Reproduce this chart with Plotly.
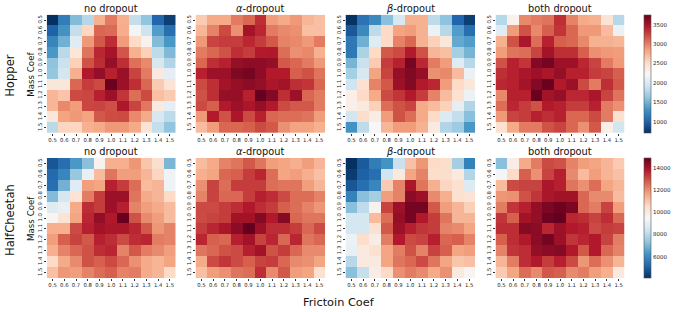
import plotly.graph_objects as go

W, H = 676, 312
friction = ["0.5","0.6","0.7","0.8","0.9","1.0","1.1","1.2","1.3","1.4","1.5"]
mass = list(friction)

hopper_none = [
[720,1170,1570,1800,2780,3030,2790,1870,1630,1030,800],
[1000,1320,1870,2560,3120,3100,2800,2200,1920,1380,1080],
[1230,1500,2050,2900,3180,3370,2880,2540,2300,1570,1350],
[1350,1820,2420,3060,3390,3500,3190,2780,2600,1840,1560],
[1620,1900,2600,3210,3370,3570,3360,3080,2970,1990,1780],
[1650,1960,2790,3460,3580,3420,3550,3270,3030,2390,2090],
[2410,2410,3120,3300,3240,3750,3540,3360,3120,2630,2450],
[2750,2670,3240,3260,3420,3540,3330,3090,3240,2700,2640],
[2750,2970,2880,3260,3270,3220,3470,3270,3050,2390,2090],
[2420,2850,2900,2850,3180,3230,3240,2970,2820,1990,1840],
[1820,2570,2570,2780,2820,2900,2900,2820,2440,1870,1630]]
hopper_alpha = [
[2630,2820,2820,3030,3120,3360,2880,2820,2900,2750,2700],
[2750,3000,3240,2940,3510,3390,3030,2970,2940,2700,2700],
[2900,3270,3300,3300,3390,3300,3180,3000,2970,2900,3030],
[3030,3120,3210,3360,3300,3450,3460,3090,2940,2970,2780],
[3120,3360,3420,3570,3600,3600,3570,3180,3120,3030,2900],
[3420,3540,3540,3660,3700,3600,3450,3450,3150,3210,3060],
[3240,3360,3510,3570,3610,3570,3480,3510,3360,3330,3120],
[3210,3360,3570,3570,3420,3760,3640,3360,3540,3120,3030],
[3240,3150,3450,3540,3480,3570,3450,3240,3180,3180,3030],
[2900,3450,3210,3480,3240,3420,3120,3090,3090,3060,2880],
[2720,2880,3120,3120,3150,3240,3180,2940,2850,2850,2780]]
hopper_beta = [
[730,1110,1260,1600,1990,2780,2780,1840,1620,1020,800],
[940,1260,1840,2540,2850,2880,2780,2140,1810,1380,1080],
[1140,1500,2050,2540,3000,3120,2780,2600,2420,1450,1380],
[1140,1750,2540,3180,3240,3450,3210,2750,2700,1720,1530],
[1530,1900,2630,3300,3420,3700,3390,3030,2880,2050,1810],
[1720,1990,2850,3270,3570,3660,3570,2940,2970,2720,2140],
[1930,2480,3000,3180,3540,3640,3450,3390,2880,2540,2420],
[2330,2540,2820,3240,3330,3450,3300,3000,2720,2480,2140],
[2330,2390,2600,3090,3210,3270,2820,2720,2600,2090,1780],
[1960,2510,2360,2880,3210,3090,2820,2540,2020,1870,1600],
[1320,1840,2240,2750,2880,2880,2780,2390,1780,1690,1350]]
hopper_both = [
[1810,2300,2970,3030,3060,3360,3000,2820,2780,2450,1810],
[2050,2880,3210,2970,3150,3330,3120,2900,2900,2720,2140],
[2780,3210,3480,3090,3420,3150,3120,2970,2780,2780,2750],
[2880,3060,3090,3270,3510,3360,3360,3150,2940,2900,2880],
[3210,3420,3330,3640,3700,3540,3540,3390,3270,3030,2900],
[3360,3420,3480,3540,3480,3570,3420,3420,3300,3270,3150],
[3390,3420,3510,3640,3750,3450,3540,3240,3030,3360,3180],
[2970,3420,3420,3750,3510,3570,3390,3390,3480,3270,3060],
[3090,3390,3300,3210,3450,3420,3300,3300,3420,3030,2940],
[2900,3270,3300,3420,3360,3420,3120,3120,3240,3030,2480],
[2480,2820,3030,3030,3210,3270,3120,2940,3180,2330,1960]]
cheetah_none = [
[4840,5380,6350,7210,9700,11420,11420,11850,11000,10450,7000],
[5270,5920,7430,9050,11200,12390,11740,11740,11310,10660,9260],
[5380,6890,8830,11740,11630,13680,13250,12500,11200,11310,9260],
[7110,8510,10230,12280,13250,14110,14110,12390,11530,11310,10560],
[8830,9050,11530,13470,13250,14110,13680,12170,11740,11530,11200],
[9590,10230,11630,13580,14220,13790,14870,12930,12060,11740,11200],
[11420,11420,13040,13680,14020,13900,13900,13580,12820,11850,12170],
[11740,12710,13150,12820,13680,13470,13040,13470,13580,12280,12170],
[11420,12170,12600,12930,13470,13580,12170,12820,12280,12060,11740],
[10560,11530,12060,12930,12710,13040,12600,11960,11530,11310,11630],
[11110,11850,11740,12170,12500,12710,12170,12280,11530,11310,10560]]
cheetah_alpha = [
[11200,11530,12170,12390,12820,12390,11740,11630,11420,11740,11310],
[11420,11630,12600,12710,13250,13580,12500,11630,11740,11420,11090],
[11960,13150,12500,13250,13250,13250,12500,12390,12390,11740,11310],
[12170,13150,12600,12600,13250,13680,13470,13040,12500,12500,12170],
[13040,13040,13250,13470,13790,13470,13250,12710,12500,12170,11850],
[13040,13150,13250,14020,14020,14440,13790,14440,12600,12390,12390],
[13250,13580,13900,14330,14870,14110,13470,13470,13250,12600,13040],
[13580,12710,12600,13680,14020,13150,13580,12600,13580,12390,12600],
[12390,12600,12930,13040,13680,14020,12930,13250,12600,12060,12060],
[11530,13040,13360,13040,12710,13150,13250,12600,12060,11960,11630],
[11110,11740,11960,12390,12500,13470,12060,12820,11740,11630,10340]]
cheetah_beta = [
[4100,4950,5700,6240,8290,11090,11850,10560,10450,7640,5810],
[4300,5060,5380,8400,10020,11630,12170,10450,10450,10020,7860],
[4840,5380,5920,10880,12170,13900,12390,11420,10660,10340,8720],
[5810,7210,7640,11740,12170,14330,14110,12060,11420,10340,10230],
[7210,8080,9700,13150,14110,14660,14660,12820,11740,11310,10770],
[8510,8510,11200,12500,14220,14660,13790,13250,12390,11310,11310],
[8510,8510,10340,12820,14110,13680,13360,13250,12170,12060,11630],
[9150,10450,9910,12280,13790,13040,13150,13680,12600,12710,12170],
[9050,10020,10340,11630,12280,12930,12170,13150,12710,11630,11740],
[7970,10020,10020,11630,12390,12600,13040,12390,11630,11000,11110],
[7210,8190,9910,10560,11960,12280,12060,11530,11960,10020,9590]]
cheetah_both = [
[7210,9910,11530,12280,13040,12930,12170,11740,11630,11310,10880],
[9370,10560,12710,11960,13150,13680,12060,11200,11740,11310,11090],
[11200,13040,13150,13150,13900,13680,12390,11960,12500,11630,11310],
[11850,11960,12930,13360,13900,14020,14020,12600,12060,12060,11200],
[12280,13360,13680,14220,14550,14770,14550,12600,12280,13150,11740],
[13360,12710,14020,14220,14770,14870,13580,13470,13150,13470,12600],
[13470,13470,14440,14330,13580,14110,13790,13680,13040,13250,13150],
[12710,13470,13790,14330,14660,14110,13360,13580,13790,13150,12280],
[12170,13360,13470,14220,14330,14440,13790,12820,13790,12600,12170],
[11310,12280,13470,13790,13250,13680,13040,11850,12500,11960,11310],
[10880,11630,12500,12060,12820,12710,12060,12280,11740,11420,10020]]

titles = ["no dropout", "<i>α</i>-dropout", "<i>β</i>-dropout", "both dropout"]
rows = [
    dict(name="Hopper", panels=[hopper_none, hopper_alpha, hopper_beta, hopper_both],
         zmin=717, zmax=3758, top=14.7, bottom=133,
         ticks=[1000,1500,2000,2500,3000,3500]),
    dict(name="HalfCheetah", panels=[cheetah_none, cheetah_alpha, cheetah_beta, cheetah_both],
         zmin=4085, zmax=14870, top=158, bottom=278,
         ticks=[6000,8000,10000,12000,14000]),
]
xspans = [(46.7,175.7),(195.5,325),(345.5,475),(495.5,624.5)]
FONT = "DejaVu Sans"
scale = "RdBu_r"

fig = go.Figure()
ann = []
idx = 0
layout = {}
for r, row in enumerate(rows):
    ydom = [1-row["bottom"]/H, 1-row["top"]/H]
    for c, z in enumerate(row["panels"]):
        idx += 1
        sx = "" if idx == 1 else str(idx)
        cb = None
        if c == 3:
            cb = dict(thicknessmode="pixels", thickness=7, lenmode="pixels",
                      len=row["bottom"]-row["top"], x=644/W, xanchor="left", xpad=0, ypad=0,
                      y=ydom[1], yanchor="top", tickvals=row["ticks"], tickformat="d",
                      exponentformat="none", ticklen=1.5, tickwidth=0.5,
                      tickcolor="#333", outlinecolor="#555", outlinewidth=0.6,
                      tickfont=dict(size=5.5, family=FONT, color="#222"))
        fig.add_trace(go.Heatmap(z=z, x=friction, y=mass, zmin=row["zmin"], zmax=row["zmax"],
                                 colorscale=scale, showscale=c == 3, colorbar=cb,
                                 xaxis="x"+sx, yaxis="y"+sx, xgap=0, ygap=0))
        layout["xaxis"+sx] = dict(domain=[xspans[c][0]/W, xspans[c][1]/W], anchor="y"+sx, type="category",
                                  tickangle=0, tickfont=dict(size=5.3, family=FONT, color="#222"),
                                  ticks="outside", ticklen=1.5, tickwidth=0.5, tickcolor="#333",
                                  showgrid=False, zeroline=False, showline=False, automargin=False)
        layout["yaxis"+sx] = dict(domain=ydom, anchor="x"+sx, type="category", autorange="reversed",
                                  tickangle=-90, tickfont=dict(size=5.3, family=FONT, color="#222"),
                                  ticks="outside", ticklen=1.5, tickwidth=0.5, tickcolor="#333",
                                  showgrid=False, zeroline=False, showline=False, automargin=False)
        ann.append(dict(text=titles[c], xref="paper", yref="paper", showarrow=False,
                        x=sum(xspans[c])/2/W, y=1-(row["top"]-6.5)/H, xanchor="center", yanchor="middle",
                        font=dict(size=9.8, family=FONT, color="#111")))
    cy = (row["top"]+row["bottom"])/2
    ann.append(dict(text=row["name"], xref="paper", yref="paper", showarrow=False, textangle=-90,
                    x=10/W, y=1-(cy+2)/H, xanchor="center", yanchor="middle",
                    font=dict(size=11.6, family=FONT, color="#111")))
    ann.append(dict(text="Mass Coef", xref="paper", yref="paper", showarrow=False, textangle=-90,
                    x=31/W, y=1-(cy+1)/H, xanchor="center", yanchor="middle",
                    font=dict(size=8.7, family=FONT, color="#111")))
ann.append(dict(text="Frictoin Coef", xref="paper", yref="paper", showarrow=False,
                x=339/W, y=1-302/H, xanchor="center", yanchor="middle",
                font=dict(size=11.3, family=FONT, color="#111")))

fig.update_layout(width=W, height=H, margin=dict(l=0, r=0, t=0, b=0), paper_bgcolor="white",
                  plot_bgcolor="white", annotations=ann, **layout)
fig.write_html("out.html", config={"displayModeBar": False}, post_script="document.body.style.margin='0';")
